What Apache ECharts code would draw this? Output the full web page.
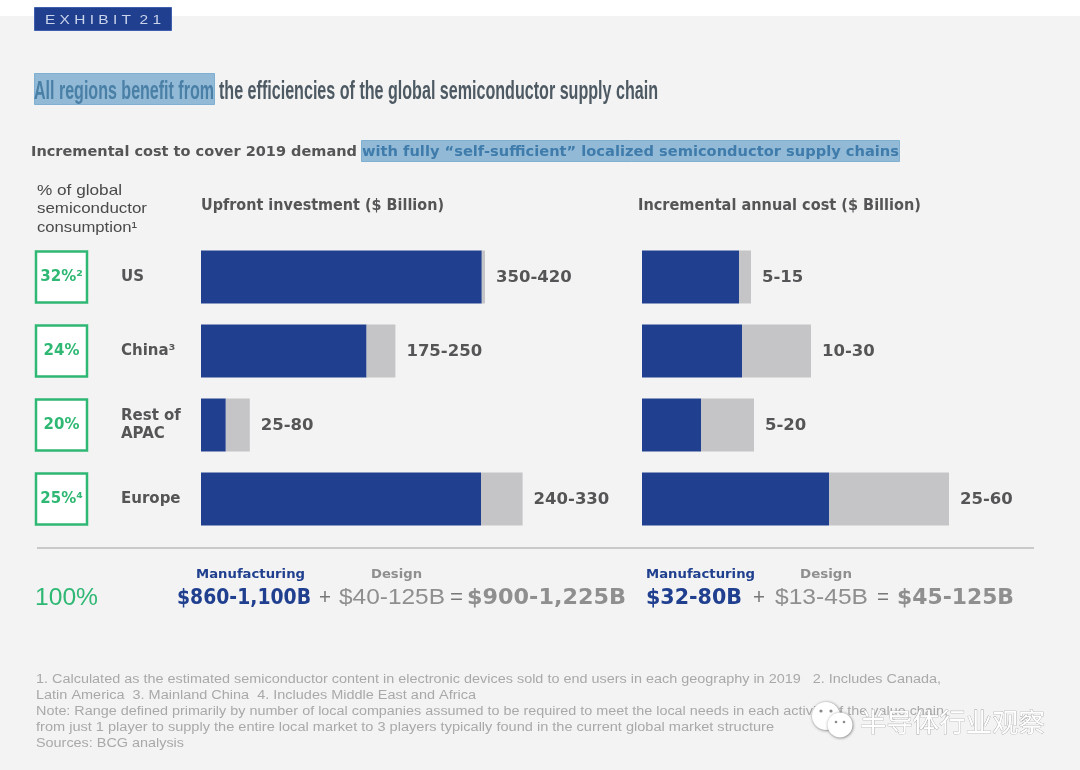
<!DOCTYPE html>
<html lang="en" style="height: 100%">

<head>
    <meta charset="UTF-8">
    <title>Exhibit 21</title>
    <script src="https://cdn.jsdelivr.net/npm/echarts@6/dist/echarts.min.js"></script>
</head>

<body style="height: 100%; margin: 0; background: #fff">
    <div id="main" style="width: 1080px; height: 770px"></div>

    <script>
        // values, the bars have no printed scale
        var regions = ['US', 'China³', 'Rest of\nAPAC', 'Europe'];
        var shares = ['32%²', '24%', '20%', '25%⁴'];
        var upfrontManufacturing = [351, 207, 31, 350];
        var upfrontDesign = [4, 36, 30, 52];
        var upfrontLabels = ['350-420', '175-250', '25-80', '240-330'];
        var annualManufacturing = [19.4, 20, 11.8, 37.4];
        var annualDesign = [2.4, 13.8, 10.6, 24];
        var annualLabels = ['5-15', '10-30', '5-20', '25-60'];
        var footnotes = [
            '1. Calculated as the estimated semiconductor content in electronic devices sold to end users in each geography in 2019   2. Includes Canada,',
            'Latin America  3. Mainland China  4. Includes Middle East and Africa',
            'Note: Range defined primarily by number of local companies assumed to be required to meet the local needs in each activity of the value chain,',
            'from just 1 player to supply the entire local market to 3 players typically found in the current global market structure',
            'Sources: BCG analysis'
        ];

        var BLUE = '#20408f', GRAY = '#c5c5c7', DARK = '#555557', GREEN = '#2fb874', TOTAL = '#8f8f8f';
        var WIDE = '"DejaVu Sans"', NARROW = '"Liberation Sans Narrow", "Liberation Sans"', PLAIN = '"Liberation Sans"';

        var myChart = echarts.init(document.getElementById('main'));
        var ctx = document.createElement('canvas').getContext('2d');

        // text squeezed or stretched to the width it has in the picture
        function txt(x, y, str, size, weight, color, family, width, z) {
            ctx.font = weight + ' ' + size + 'px ' + family;
            return {
                type: 'text', x: x, y: y + 1, z: z || 5,
                scaleX: width ? width / ctx.measureText(str).width : 1,
                style: {
                    text: str, fontSize: size, fontWeight: weight, fontFamily: family,
                    fill: color, verticalAlign: 'middle'
                }
            };
        }
        function box(x, y, w, h, fill, stroke) {
            return {
                type: 'rect', z: 1, shape: { x: x, y: y, width: w, height: h },
                style: { fill: fill, stroke: stroke || null, lineWidth: 1 }
            };
        }
        function bubble(cx, cy, r) {
            return {
                type: 'circle', z: 6, shape: { cx: cx, cy: cy, r: r },
                style: { fill: '#fff', shadowBlur: 3, shadowColor: 'rgba(0,0,0,0.55)', shadowOffsetX: 0.5, shadowOffsetY: 0.5 }
            };
        }
        function dot(cx, cy, r) {
            return { type: 'circle', z: 7, shape: { cx: cx, cy: cy, r: r }, style: { fill: '#8a8a8a' } };
        }

        var watermark = txt(860, 721, '半导体行业观察', 26, 'normal', '#fff', '"Noto Sans CJK SC"', 185, 7);
        watermark.style.stroke = '#a0a0a0';
        watermark.style.lineWidth = 0.7;

        var graphics = [
            box(0, 16, 1080, 754, '#f3f3f3'),
            box(34.5, 7.5, 137, 23, BLUE, '#3f5fae'),
            txt(45, 19, 'E X H I B I T  2 1', 13, 'normal', '#c9d3ea', NARROW, 116),

            box(34.5, 73.5, 180, 31, '#92bad7', '#7fb0d2'),
            txt(34, 91, 'All regions benefit from', 26, 'bold', '#4a7fa6', NARROW, 180),
            txt(219, 91, 'the efficiencies of the global semiconductor supply chain', 26, 'bold', '#4e5a63', NARROW, 439),

            txt(31, 151, 'Incremental cost to cover 2019 demand', 14, 'bold', DARK, WIDE, 326),
            box(361.5, 140.5, 538, 21, '#92bad7', '#7fb0d2'),
            txt(362, 151, 'with fully “self-sufficient” localized semiconductor supply chains', 14, 'bold', '#3f7cab', WIDE, 537),

            txt(37, 190, '% of global', 15, 'normal', '#4a4a4c', PLAIN, 85),
            txt(37, 208, 'semiconductor', 15, 'normal', '#4a4a4c', PLAIN, 110),
            txt(37, 227, 'consumption¹', 15, 'normal', '#4a4a4c', PLAIN, 100),
            txt(201, 205, 'Upfront investment ($ Billion)', 15, 'bold', DARK, WIDE, 243),
            txt(638, 205, 'Incremental annual cost ($ Billion)', 15, 'bold', DARK, WIDE, 283),

            {
                type: 'line', z: 2, shape: { x1: 37, y1: 548, x2: 1034, y2: 548 },
                style: { stroke: '#c9c9c9', lineWidth: 2 }
            },

            txt(35, 597, '100%', 24, 'normal', GREEN, PLAIN, 63),
            txt(196, 574, 'Manufacturing', 13, 'bold', BLUE, WIDE, 109),
            txt(371, 574, 'Design', 13, 'bold', TOTAL, WIDE, 51),
            txt(177, 597, '$860-1,100B', 22, 'bold', BLUE, WIDE, 134),
            txt(319, 597, '+', 22, 'normal', '#777', PLAIN, 12),
            txt(339, 597, '$40-125B', 22, 'normal', TOTAL, PLAIN, 106),
            txt(450, 597, '=', 22, 'normal', '#777', PLAIN, 13),
            txt(467, 597, '$900-1,225B', 22, 'bold', TOTAL, WIDE, 159),
            txt(646, 574, 'Manufacturing', 13, 'bold', BLUE, WIDE, 109),
            txt(800, 574, 'Design', 13, 'bold', TOTAL, WIDE, 52),
            txt(646, 597, '$32-80B', 22, 'bold', BLUE, WIDE, 96),
            txt(753, 597, '+', 22, 'normal', '#777', PLAIN, 12),
            txt(775, 597, '$13-45B', 22, 'normal', TOTAL, PLAIN, 93),
            txt(877, 597, '=', 22, 'normal', '#777', PLAIN, 12),
            txt(897, 597, '$45-125B', 22, 'bold', TOTAL, WIDE, 117),

            // watermark
            watermark,
            bubble(826, 716, 14),
            bubble(840, 725, 12.5),
            dot(821, 711, 1.6),
            dot(831, 711, 1.6),
            dot(836, 722, 1.3),
            dot(844, 722, 1.3)
        ];

        var noteWidths = [905, 440, 912, 738, 148];
        footnotes.forEach(function (line, i) {
            graphics.push(txt(36, 679 + i * 16, line, 12.5, 'normal', '#a9a9a9', PLAIN, noteWidths[i]));
        });

        function barSeries(axis, values, color, labels) {
            return {
                type: 'bar', xAxisIndex: axis, yAxisIndex: axis, stack: 'cost' + axis,
                barWidth: 53, z: 3, data: values, silent: true,
                itemStyle: { color: color },
                label: labels ? {
                    show: true, position: 'right', distance: 11, offset: [0, 1],
                    fontFamily: WIDE, fontSize: 16.5, fontWeight: 'bold', color: DARK,
                    formatter: function (p) { return labels[p.dataIndex]; }
                } : { show: false }
            };
        }
        function hiddenCategory(grid, extra) {
            return Object.assign({
                type: 'category', gridIndex: grid, inverse: true, data: regions, z: 4,
                axisLine: { show: false }, axisTick: { show: false }, axisLabel: { show: false }
            }, extra || {});
        }
        function hiddenValue(grid, min, max) {
            return { type: 'value', gridIndex: grid, min: min, max: max, show: false, splitLine: { show: false } };
        }

        var option = {
            animation: false,
            graphic: graphics,
            grid: [
                { left: 201, top: 240, width: 400, height: 296 },
                { left: 642, top: 240, width: 400, height: 296 },
                { left: 35, top: 240, width: 53, height: 296 }
            ],
            xAxis: [hiddenValue(0, 0, 500), hiddenValue(1, 0, 80), hiddenValue(2, 0, 2)],
            yAxis: [
                hiddenCategory(0, {
                    axisLabel: {
                        show: true, margin: 80, align: 'left',
                        fontFamily: WIDE, fontSize: 15, fontWeight: 'bold', color: DARK, lineHeight: 18
                    }
                }),
                hiddenCategory(1),
                hiddenCategory(2)
            ],
            series: [
                barSeries(0, upfrontManufacturing, BLUE),
                barSeries(0, upfrontDesign, GRAY, upfrontLabels),
                barSeries(1, annualManufacturing, BLUE),
                barSeries(1, annualDesign, GRAY, annualLabels),
                {
                    type: 'scatter', xAxisIndex: 2, yAxisIndex: 2, silent: true, z: 3,
                    symbol: 'rect', symbolSize: [51, 51],
                    itemStyle: { color: '#fff', borderColor: GREEN, borderWidth: 2.5, opacity: 1 },
                    data: shares.map(function (s, i) { return [1, i]; }),
                    label: {
                        show: true, position: 'inside',
                        fontFamily: WIDE, fontSize: 15, fontWeight: 'bold', color: GREEN,
                        formatter: function (p) { return shares[p.dataIndex]; }
                    }
                }
            ]
        };
        myChart.setOption(option);
    </script>
</body>

</html>
